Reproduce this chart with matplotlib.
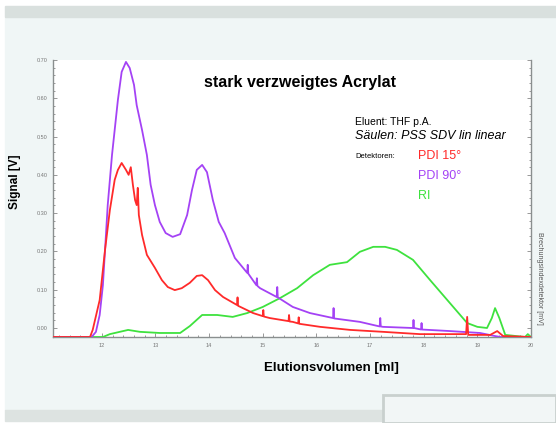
import matplotlib.pyplot as plt
import matplotlib.patches as mpatches
from matplotlib.ticker import MultipleLocator

W, H = 556, 423

# --- data -------------------------------------------------------------
ls90_x = [11.09, 11.81, 11.89, 11.96, 12.02, 12.06, 12.11, 12.19, 12.30, 12.37,
          12.45, 12.52, 12.60, 12.65, 12.75, 12.84, 12.91, 12.99, 13.08, 13.19,
          13.32, 13.46, 13.59,
          13.68, 13.77, 13.87, 13.96, 14.07, 14.18, 14.29, 14.48, 14.71, 14.72,
          14.73, 14.88, 14.89, 14.90, 14.95, 15.26, 15.27, 15.28, 15.56, 15.88,
          16.31, 16.32, 16.33, 16.81, 17.18, 17.19, 17.20, 17.24, 17.80, 17.81,
          17.82, 17.95, 17.96, 17.97, 18.49, 19.05, 19.33, 19.43, 20.0]
ls90_y = [-0.0235, -0.0235, -0.010, 0.034, 0.112, 0.204, 0.321, 0.452, 0.596, 0.669,
          0.695, 0.679, 0.635, 0.582, 0.517, 0.452, 0.374, 0.321, 0.277, 0.248,
          0.238, 0.245, 0.295,
          0.360, 0.413, 0.426, 0.407, 0.334, 0.277, 0.248, 0.183, 0.144, 0.165,
          0.142, 0.112, 0.130, 0.110, 0.104, 0.081, 0.107, 0.080, 0.055, 0.039,
          0.026, 0.052, 0.025, 0.016, 0.004, 0.026, 0.004, 0.003, 0.0, 0.021,
          0.0, -0.004, 0.013, -0.004, -0.008, -0.013, -0.021, -0.0235, -0.0235]

ls15_x = [11.09, 11.78, 11.83, 11.96, 12.06, 12.15, 12.24, 12.30, 12.37, 12.45,
          12.50, 12.54, 12.58, 12.62, 12.65, 12.67, 12.69, 12.75, 12.84, 12.99,
          13.12, 13.23, 13.36, 13.49, 13.64, 13.77, 13.87, 13.98, 14.11, 14.26,
          14.52, 14.53, 14.54, 14.82, 15.00, 15.01, 15.02, 15.13, 15.48, 15.49,
          15.50, 15.56, 15.66, 15.67, 15.68, 16.07, 16.63, 17.24, 17.93, 18.79,
          18.81, 18.83, 19.24, 19.37, 19.48, 20.0]
ls15_y = [-0.0235, -0.0235, -0.005, 0.073, 0.204, 0.308, 0.387, 0.413, 0.431, 0.413,
          0.400, 0.420, 0.373, 0.334, 0.321, 0.366, 0.295, 0.243, 0.191, 0.157,
          0.125, 0.107, 0.099, 0.104, 0.118, 0.136, 0.138, 0.125, 0.099, 0.081,
          0.060, 0.080, 0.058, 0.039, 0.031, 0.047, 0.030, 0.026, 0.018, 0.034,
          0.017, 0.016, 0.012, 0.028, 0.011, 0.003, -0.005, -0.010, -0.016, -0.016,
          0.029, -0.018, -0.018, -0.008, -0.021, -0.0235]

ri_x = [11.09, 12.02, 12.15, 12.49, 12.71, 13.08, 13.46, 13.64, 13.87, 14.15,
        14.44, 14.71, 15.00, 15.32, 15.64, 15.94, 16.25, 16.57, 16.81, 17.06,
        17.28, 17.50, 17.80, 18.12, 18.44, 18.68, 18.81, 19.00, 19.18, 19.27,
        19.33, 19.41, 19.52, 19.89, 19.94, 20.0]
ri_y = [-0.0235, -0.0235, -0.016, -0.005, -0.010, -0.013, -0.013, 0.005, 0.034, 0.034,
        0.029, 0.039, 0.055, 0.078, 0.104, 0.138, 0.165, 0.172, 0.199, 0.212,
        0.212, 0.204, 0.178, 0.125, 0.073, 0.034, 0.013, 0.003, 0.0, 0.026,
        0.052, 0.026, -0.018, -0.0235, -0.016, -0.0235]

x_ticks = [12, 13, 14, 15, 16, 17, 18, 19, 20]
y_ticks = [0.0, 0.1, 0.2, 0.3, 0.4, 0.5, 0.6, 0.7]

RED = "#ff2a2a"
PURPLE = "#a442f5"
GREEN = "#3ee23e"


def fx(px):
    return px / W


def fy(py):
    return 1 - py / H


plt.rcParams["font.family"] = ["Liberation Sans", "DejaVu Sans"]
fig = plt.figure(figsize=(W / 100, H / 100), dpi=100, facecolor="white")

# scanned page background
fig.patches.append(mpatches.Rectangle((fx(5), fy(410)), fx(551), 392 / H,
                                      transform=fig.transFigure,
                                      color="#f0f6f6", zorder=-3))
fig.patches.append(mpatches.Rectangle((fx(5), fy(17)), fx(551), 11 / H,
                                      transform=fig.transFigure,
                                      color="#d9e0de", zorder=-2))
fig.patches.append(mpatches.Rectangle((fx(5), fy(421)), fx(378), 11 / H,
                                      transform=fig.transFigure,
                                      color="#dde3e1", zorder=-2))
fig.patches.append(mpatches.Rectangle((fx(383), fy(423)), fx(173), 28 / H,
                                      transform=fig.transFigure,
                                      facecolor="#f2f6f6", edgecolor="#c9d0ce",
                                      linewidth=2, zorder=-2))

ax = fig.add_axes([fx(53), fy(337), (531 - 53) / W, (337 - 60) / H])
ax.set_zorder(1)
ax.set_facecolor("white")

ax.plot(ri_x, ri_y, color=GREEN, lw=1.3, zorder=3)
ax.plot(ls90_x, ls90_y, color=PURPLE, lw=1.3, zorder=4)
ax.plot(ls15_x, ls15_y, color=RED, lw=1.3, zorder=5)

ax.set_xlim(11.09, 20.0)
ax.set_ylim(-0.0235, 0.70)
ax.set_xticks(x_ticks)
ax.set_xticklabels([str(v) for v in x_ticks], fontsize=4, color="#777777")
ax.set_yticks(y_ticks)
ax.set_yticklabels([f"{v:.2f}" for v in y_ticks], fontsize=4, color="#777777")
ax.xaxis.set_minor_locator(MultipleLocator(0.2))
ax.yaxis.set_minor_locator(MultipleLocator(0.02))
ax.tick_params(which="both", direction="in", color="#888888", width=0.6)
ax.tick_params(which="major", length=3, pad=4)
ax.tick_params(which="minor", length=1.5)
ax.tick_params(axis="y", which="both", left=True, right=True)
ax.spines["top"].set_visible(False)
for s in ["left", "bottom", "right"]:
    ax.spines[s].set_color("#8a8f8f")
    ax.spines[s].set_linewidth(1.0)

# texts
fig.text(fx(300), fy(82), "stark verzweigtes Acrylat", ha="center", va="center",
         fontsize=11.5, fontweight="bold")
fig.text(fx(355), fy(122), "Eluent: THF p.A.", ha="left", va="center", fontsize=7.5)
fig.text(fx(355), fy(136), "Säulen: PSS SDV lin linear", ha="left", va="center",
         fontsize=9, style="italic")
fig.text(fx(355), fy(156), "Detektoren:", ha="left", va="center", fontsize=5.5)
fig.text(fx(418), fy(156), "PDI 15°", ha="left", va="center", fontsize=9, color=RED)
fig.text(fx(418), fy(176), "PDI 90°", ha="left", va="center", fontsize=9, color=PURPLE)
fig.text(fx(418), fy(196), "RI", ha="left", va="center", fontsize=9, color=GREEN)

fig.text(fx(331), fy(368), "Elutionsvolumen [ml]", ha="center", va="center",
         fontsize=9.5, fontweight="bold")
fig.text(fx(15), fy(182), "Signal [V]", ha="center", va="center", rotation=90,
         fontsize=8.5, fontweight="bold")
fig.text(fx(539), fy(278), "Brechungsindexdetektor [mV]", ha="center", va="center",
         rotation=270, fontsize=5, color="#555555")

fig.savefig("out.png", dpi=100, facecolor=fig.get_facecolor())
